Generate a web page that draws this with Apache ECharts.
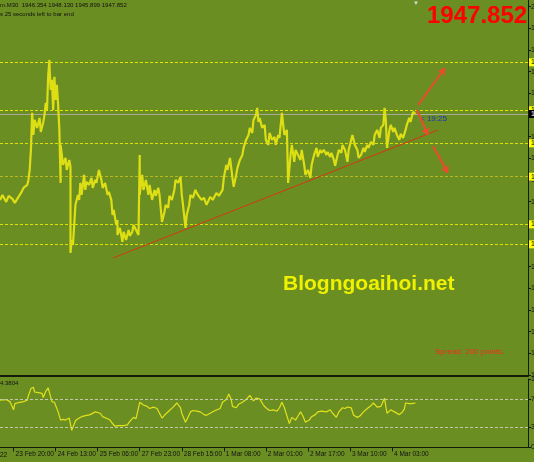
<!DOCTYPE html>
<html><head><meta charset="utf-8">
<script src="https://cdn.jsdelivr.net/npm/echarts@6/dist/echarts.min.js"></script>
<style>html,body{margin:0;padding:0;background:#6b8e23;}#c{width:534px;height:462px;}</style>
</head><body><div id="c"></div>
<script>
// ---- data (bar index = M30 bars from 23 Feb 20:00) ----
const priceBar = [-11,-9,-6,-4,-1,1,4,6,8,11,
12,13,14,15,16,17,19,21,22,24,
25,26,27,28,29,29,30,31,32,33,
34,35,36,37,38,38,40,42,43,45,
46,46,47,48,49,50,52,53,54,55,
57,58,59,61,63,64,66,67,69,71,
72,74,76,77,79,80,81,83,84,84,
86,88,89,91,93,94,96,97,99,101,
102,102,104,105,107,109,110,112,114,115,
117,118,120,122,123,125,126,128,130,131,
133,135,136,137,139,140,142,143,145,147,
149,152,154,156,159,161,164,166,169,170,
172,173,175,177,178,180,181,183,185,186,
188,190,191,193,194,196,197,198,199,201,
203,204,206,207,209,211,212,214,215,217,
218,219,221,222,224,225,227,228,230,232,
233,235,236,238,240,241,243,245,246,248,
249,251,253,254,256,257,259,260,262,263,
265,266,268,270,271,273,274,276,278,279,
281,283,284,286,287,289,291,292,294,296,
297,299,300,301,302,304,305,307,308,310,
312,313,315,317,318,320,321,323,325];
const priceVal = [1904.9,1907.4,1903.9,1906.9,1905.4,1903.4,1906.4,1908.4,1910.9,1912.4,
1914.9,1919.9,1929.9,1948.4,1937.4,1944.9,1940.9,1945.9,1938.9,1943.9,
1947.4,1953.4,1949.9,1967.4,1974.9,1972.4,1959.9,1964.9,1949.9,1966.4,
1954.9,1962.4,1952.4,1939.9,1913.4,1932.4,1922.4,1925.9,1919.9,1924.9,
1921.4,1878.4,1884.9,1882.4,1892.4,1902.4,1907.4,1904.9,1913.4,1907.4,
1917.4,1909.9,1913.9,1912.4,1915.9,1910.9,1914.9,1913.4,1919.9,1914.9,
1910.9,1913.4,1907.4,1908.9,1904.9,1897.4,1899.9,1892.4,1894.9,1887.4,
1890.9,1883.9,1888.9,1884.9,1889.9,1886.9,1888.9,1892.4,1889.9,1887.4,
1927.4,1907.4,1917.4,1909.9,1914.9,1907.4,1912.4,1904.9,1909.9,1906.9,
1910.9,1907.4,1893.9,1898.9,1902.4,1900.9,1906.9,1904.9,1909.9,1914.9,
1913.4,1916.4,1907.4,1902.4,1890.9,1897.4,1902.4,1907.4,1905.9,1909.9,
1907.4,1904.9,1905.9,1902.4,1906.4,1904.9,1908.4,1906.9,1909.9,1915.9,
1922.4,1919.9,1925.9,1915.9,1911.4,1917.4,1920.9,1924.9,1927.4,1930.9,
1934.9,1937.4,1940.9,1938.4,1944.9,1947.4,1950.9,1943.9,1945.9,1940.9,
1942.4,1934.9,1932.4,1938.4,1934.9,1936.4,1932.4,1937.4,1935.9,1948.4,
1942.4,1937.4,1939.9,1913.4,1927.4,1932.4,1923.9,1929.9,1927.4,1924.9,
1929.9,1922.4,1917.4,1919.9,1915.9,1922.4,1927.4,1930.9,1926.4,1929.9,
1928.4,1929.9,1927.4,1928.9,1926.4,1928.4,1924.9,1921.9,1927.4,1929.9,
1928.4,1932.4,1929.9,1923.9,1929.9,1934.9,1937.4,1932.4,1929.9,1925.9,
1927.4,1930.9,1928.9,1932.4,1930.9,1933.9,1932.4,1937.4,1939.9,1935.9,
1940.9,1942.4,1950.9,1944.9,1930.9,1939.9,1942.4,1938.9,1940.9,1937.4,
1934.9,1937.9,1935.9,1939.9,1942.4,1945.9,1943.9,1948.9,1947.9];

const rsiBar = [-11,-6,-3,0,1,5,8,11,12,14,
16,17,20,23,24,26,28,29,31,33,
36,38,40,42,45,47,50,52,55,59,
62,66,70,72,76,78,80,82,84,86,
89,92,94,97,99,100,102,103,105,108,
110,113,116,118,120,122,126,129,132,135,
136,139,141,143,145,148,151,154,156,159,
163,167,169,172,174,176,177,180,182,185,
188,191,194,196,199,202,204,207,210,213,
215,217,219,220,223,225,228,230,232,234,
236,239,241,244,246,249,253,256,258,261,
263,266,268,270,273,275,278,280,283,286,
289,291,294,297,300,301,302,305,308,312,
314,316,317,320,322,325];
const rsiVal = [69,70,67,55,64,66,67,69,76,86,
88,81,80,79,73,82,87,80,67,66,
52,40,41,40,43,25,39,42,45,47,
48,52,50,45,42,40,35,31,32,32,
32,33,38,44,42,40,66,65,62,60,
57,59,57,50,43,47,54,59,65,58,
50,37,44,52,54,53,52,48,47,50,
54,57,66,70,78,70,60,58,63,66,
70,76,68,72,71,62,58,54,55,53,
58,66,58,52,35,44,40,46,52,46,
37,40,45,48,52,53,52,55,50,44,
52,58,57,59,58,47,44,46,52,57,
61,65,59,60,72,60,50,55,52,48,
51,56,65,64,64,65];

const levelPrices = [1973.70, 1949.70, 1933.20, 1916.50, 1892.70, 1882.70];
const levelColors = ['#e6e600','#e6e600','#e0e000','#b8b81c','#e0e000','#e0e000'];
const bidPrice = 1947.852;
const rsiLevels = [70, 30];

const timeTickBars = [0,34,68,102,136,170,204,238,272,306];
const timeTickLabels = ['23 Feb 20:00','24 Feb 13:00','25 Feb 06:00','27 Feb 23:00','28 Feb 15:00','1 Mar 08:00','2 Mar 01:00','2 Mar 17:00','3 Mar 10:00','4 Mar 03:00'];
const priceTicks = [2001.50,1990.67,1979.83,1969.00,1958.17,1947.33,1936.50,1925.67,1914.83,1904.00,1893.17,1882.33,1871.50,1860.67,1849.83,1839.00,1828.17,1817.33];
const rsiTicks = [0,30,70,100];

const trendLine = [[80.4,1875.85],[343.2,1939.85]];
const arrows = [
  [[327.0,1952.35],[348.9,1970.85]],
  [[326.2,1949.85],[335.1,1937.35]],
  [[339.2,1931.85],[351.3,1918.35]]
];

// ---- chart ----
const FONT = "'Liberation Sans',Arial,sans-serif";
const dark = '#161a0c';
const chart = echarts.init(document.getElementById('c'), null, {renderer:'canvas'});

const levelMarks = levelPrices.map((p,i)=>({
  yAxis: p,
  lineStyle:{color: levelColors[i], type:[3,2], width:1},
  label:{show:true, position:'end', distance:1, formatter: ()=>p.toFixed(2),
         backgroundColor:'#ffff00', color:'#000', fontSize:7, fontFamily:FONT, padding:[1,2,0,2]}
}));
levelMarks.push({
  yAxis: bidPrice,
  lineStyle:{color:'#a8a8a0', type:'solid', width:1},
  label:{show:true, position:'end', distance:1, formatter: ()=>bidPrice.toFixed(2),
         backgroundColor:'#000', color:'#fff', fontSize:7, fontFamily:FONT, padding:[1,2,0,2]}
});

const option = {
  backgroundColor:'#6b8e23',
  animation:false,
  grid:[
    {left:0, top:0, width:528, height:376, outerBoundsMode:'none', containLabel:false},
    {left:0, top:379, width:528, height:68.5, outerBoundsMode:'none', containLabel:false}
  ],
  xAxis:[
    {gridIndex:0, type:'value', min:-11, max:416,
     axisLine:{show:true, onZero:false, lineStyle:{color:dark, width:2}},
     axisTick:{show:false}, axisLabel:{show:false}, splitLine:{show:false}},
    {gridIndex:1, type:'value', min:-11, max:416,
     axisLine:{show:true, onZero:false, lineStyle:{color:dark, width:1}},
     axisTick:{show:true, length:4, customValues:timeTickBars, lineStyle:{color:dark}},
     axisLabel:{show:true, customValues:timeTickBars, hideOverlap:false,
       formatter:(v)=>{const i=timeTickBars.indexOf(v); return i>=0?timeTickLabels[i]:'';},
       align:'left', padding:[0,0,0,2], margin:3, fontSize:6.5, color:'#111', fontFamily:FONT},
     splitLine:{show:false}}
  ],
  yAxis:[
    {gridIndex:0, type:'value', position:'right', min:1816.85, max:2004.85,
     axisLine:{show:true, onZero:false, lineStyle:{color:dark}},
     axisTick:{show:true, length:3, customValues:priceTicks, lineStyle:{color:dark}},
     axisLabel:{show:true, customValues:priceTicks, formatter:(v)=>v.toFixed(2), margin:3, fontSize:7, color:'#111', fontFamily:FONT},
     splitLine:{show:false}},
    {gridIndex:1, type:'value', position:'right', min:0, max:100,
     axisLine:{show:true, onZero:false, lineStyle:{color:dark}},
     axisTick:{show:true, length:3, customValues:rsiTicks, lineStyle:{color:dark}},
     axisLabel:{show:true, customValues:rsiTicks, margin:3, fontSize:7, color:'#111', fontFamily:FONT},
     splitLine:{show:false}}
  ],
  series:[
    {type:'line', xAxisIndex:0, yAxisIndex:0, symbol:'none', silent:true, z:3,
     data: priceBar.map((b,i)=>[b, priceVal[i]]),
     lineStyle:{color:'#dede14', width:2.2},
     markLine:{silent:true, symbol:['none','none'], z:2, data: levelMarks}},
    {type:'lines', coordinateSystem:'cartesian2d', xAxisIndex:0, yAxisIndex:0, silent:true, z:4,
     symbol:['none','none'],
     lineStyle:{color:'#d4380e', width:1, opacity:1},
     data:[{coords: trendLine}]},
    {type:'lines', coordinateSystem:'cartesian2d', xAxisIndex:0, yAxisIndex:0, silent:true, z:5,
     symbol:['none','arrow'], symbolSize:7,
     lineStyle:{color:'#f04a2e', width:2, opacity:1},
     data: arrows.map(a=>({coords:a}))},
    {type:'line', xAxisIndex:1, yAxisIndex:1, symbol:'none', silent:true,
     data: rsiBar.map((b,i)=>[b, rsiVal[i]]),
     lineStyle:{color:'#e2e21c', width:1.2},
     markLine:{silent:true, symbol:['none','none'], label:{show:false},
       lineStyle:{color:'#c4c8b0', type:[3,2], width:1},
       data: rsiLevels.map(v=>({yAxis:v}))}}
  ],
  graphic:[
    {type:'text', left:0, top:2, style:{text:'m.M30  1946.354 1948.130 1945.899 1947.852', fill:'#111', font:'6px '+FONT}},
    {type:'text', left:0, top:11, style:{text:'s 25 seconds left to bar end', fill:'#111', font:'6px '+FONT}},
    {type:'text', x:427, y:16, style:{text:'1947.852', fill:'#ff0000', font:'bold 24px '+FONT, verticalAlign:'middle'}},
    {type:'text', x:413, y:0, style:{text:'▼', fill:'#d8d8d8', font:'6px '+FONT}},
    {type:'text', x:420, y:119, style:{text:'< 19:25', fill:'#2030c8', font:'8px '+FONT, verticalAlign:'middle'}},
    {type:'text', x:283, y:284, style:{text:'Blogngoaihoi.net', fill:'#eef200', font:'bold 21px '+FONT, verticalAlign:'middle'}},
    {type:'text', x:435, y:352, style:{text:'Spread: 200 points.', fill:'#f0301a', font:'8px '+FONT, verticalAlign:'middle'}},
    {type:'text', x:0, y:383, style:{text:'4.3804', fill:'#111', font:'6px '+FONT, verticalAlign:'middle'}},
    {type:'text', x:0, y:455, style:{text:'22', fill:'#111', font:'6.5px '+FONT, verticalAlign:'middle'}}
  ]
};
chart.setOption(option);
</script>
</body></html>
